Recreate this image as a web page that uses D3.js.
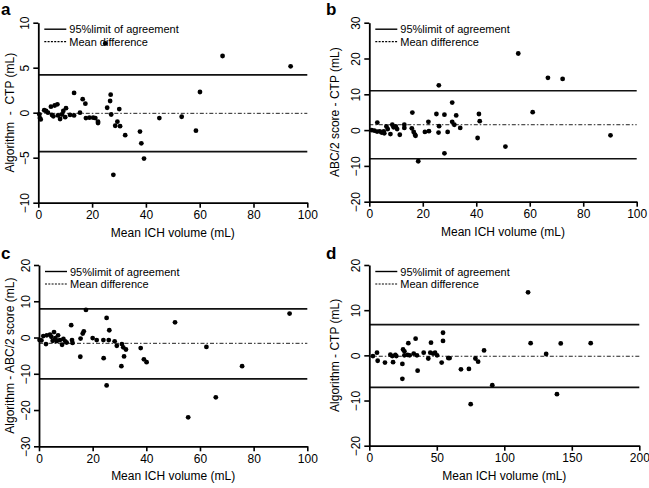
<!DOCTYPE html>
<html><head><meta charset="utf-8">
<script src="https://cdn.jsdelivr.net/npm/d3@7"></script>
<style>
html,body{margin:0;padding:0;background:#fff;}
text{font-family:"Liberation Sans",Arial,Helvetica,sans-serif;fill:#000;}
</style></head>
<body><svg id="chart" width="649" height="488"></svg>
<script>
// ---------- data ----------
const panelLabels = ["a", "b", "c", "d"];
const xTitles = ["Mean ICH volume (mL)", "Mean ICH volume (mL)", "Mean ICH volume (mL)", "Mean ICH volume (mL)"];
const yTitles = ["Algorithm  -  CTP (mL)", "ABC/2 score - CTP (mL)", "Algorithm - ABC/2 score (mL)", "Algorithm - CTP (mL)"];
const legendLabels = ["95%limit of agreement", "Mean difference"];

const xDomains = [[0, 100], [0, 100], [0, 100], [0, 200]];
const yDomains = [[-10, 10], [-20, 30], [-30, 20], [-20, 20]];
const xTickValues = [[0, 20, 40, 60, 80, 100], [0, 20, 40, 60, 80, 100], [0, 20, 40, 60, 80, 100], [0, 50, 100, 150, 200]];
const yTickValues = [[-10, -5, 0, 5, 10], [-20, -10, 0, 10, 20, 30], [-30, -20, -10, 0, 10, 20], [-20, -10, 0, 10, 20]];

const upperLimits = [4.2, 11.0, 7.9, 6.8];
const lowerLimits = [-4.33, -8.0, -11.4, -7.1];
const meanDiffs = [-0.07, 1.5, -1.6, -0.2];

const pointsA = [
  [0.4,-0.2],[0.6,-0.6],[0.9,-0.75],[2.2,0.27],[2.9,0.2],[3.6,0],[4.7,0.67],[5.1,-0.25],[5.6,-0.4],
  [6.1,0.8],[7.1,0.93],[7.3,-0.3],[8.1,-0.7],[8.8,-0.2],[9.3,0.2],[10.3,0.5],[10,-0.5],[11.8,-0.25],
  [13.3,-0.3],[13.3,2.2],[15.5,0],[16.5,1.5],[17.5,1.0],[17.7,-0.6],[19,-0.55],[20.4,-0.55],[21.2,-0.6],
  [22.2,-1.0],[22.2,-1.15],[25.6,0.55],[26.7,1.3],[26.9,2.0],[27.1,-0.2],[30.1,0.4],[28.6,-1.45],
  [29.4,-1.0],[30.4,-1.5],[32.3,-2.5],[37.8,-2.1],[38.3,-3.4],[45,-0.6],[27.9,-6.9],[39.3,-5.1],
  [53.3,-0.45],[58.6,-2.0],[60.1,2.3],[68.5,6.3],[93.8,5.15],[24.9,7.7]
];
const pointsB = [
  [0.9,0],[1.9,-0.15],[2.9,-0.4],[3.0,2.1],[3.9,-0.35],[4.6,-0.7],[5.4,-0.35],[5.6,-0.9],[6.4,1.0],
  [6.9,0.3],[7.9,-1.1],[8.6,1.5],[9.1,0.8],[9.9,1.0],[10.4,0.3],[11.4,-1.3],[13.1,1.5],[13.1,0.6],
  [15.9,0.5],[16.6,-0.5],[17.1,-1.3],[17.3,-1.6],[16.1,4.9],[18.3,-8.7],[20.8,-0.5],[22.1,2.3],
  [22.3,-0.3],[25.1,4.5],[25.9,-0.7],[26.1,1.1],[26,12.5],[28.1,4.3],[28.1,-6.5],[29.3,-0.5],
  [31,7.7],[31,2.3],[31.8,1.5],[32.5,4.1],[34,0.6],[40.5,-2.2],[41,4.5],[41.3,2.5],
  [50.9,-4.6],[55.7,21.4],[61.1,5.0],[66.8,14.6],[72.3,14.3],[90.2,-1.45]
];
const pointsC = [
  [0.2,-0.7],[0.9,-0.8],[1.6,0.4],[2.6,-1.8],[2.9,0.6],[4.1,0.8],[4.6,0.2],[5.1,-0.9],[5.6,1.5],
  [6.1,-0.2],[6.6,-1.0],[7.1,0.6],[7.8,-0.7],[8.6,-2.0],[9.1,-0.4],[9.8,-1.05],[10.3,-1.4],
  [12.0,3.4],[12.3,-0.7],[12.5,-1.5],[15.4,-5.3],[15.5,-0.3],[16.3,1.1],[16.7,1.7],[17.5,7.6],
  [20,-0.15],[21.5,-0.7],[24,-0.7],[24.1,-5.7],[25.2,5.4],[26,-0.7],[26.2,2.0],[25.2,-13.2],
  [28.2,-1.05],[29,-2.3],[30.9,-1.8],[31.4,-2.7],[32.4,-3.3],[31.7,-5.2],[30.7,-7.9],[37.9,-2.9],
  [39.1,-6.0],[40.1,-6.8],[50.7,4.2],[55.6,-22.0],[62.4,-2.6],[65.9,-16.5],[75.7,-7.9],[93.4,6.6]
];
const pointsD = [
  [2.7,-0.15],[5.7,0.6],[6.2,-1.2],[11.6,-1.6],[15.6,0.15],[17,-0.15],[17.6,-1.5],[19.3,0.1],[20,-0.15],
  [24.5,-5.2],[24.5,-1.9],[25,1.3],[26,0.9],[26,0],[28.4,0.1],[28.9,2.7],[29.9,0],[32.9,0.4],
  [34.3,3.7],[35.3,0],[35.8,-3.4],[40.3,0.6],[43.7,-0.7],[45.2,0.6],[45.7,2.8],[47.2,0.4],[48.7,0.6],
  [50.2,0],[53.6,-1.6],[54.6,5.0],[54.6,3.2],[58.5,-0.6],[59.5,-0.6],[67.9,-3.1],[73.8,-3.0],
  [75.1,-10.8],[78.6,-0.7],[80.6,-1.4],[85,1.1],[91.1,-6.6],[117.6,13.95],[119.5,2.7],[131,0.3],
  [139,-8.6],[141.8,2.65],[164,2.7]
];
const allPoints = [pointsA, pointsB, pointsC, pointsD];

// ---------- layout ----------
const boxes = [
  {l: 38.3, r: 307.3, t: 22.7, b: 202.7, ox: 0, oy: 0},
  {l: 369.3, r: 636.7, t: 22.7, b: 201.7, ox: 325, oy: 0},
  {l: 39, r: 307.3, t: 265, b: 446.3, ox: 0, oy: 244},
  {l: 369.3, r: 639.3, t: 265, b: 445.7, ox: 325, oy: 244}
];

const svg = d3.select("#chart");

boxes.forEach((bx, i) => {
  const x = d3.scaleLinear().domain(xDomains[i]).range([bx.l, bx.r]);
  const y = d3.scaleLinear().domain(yDomains[i]).range([bx.b, bx.t]);
  const g = svg.append("g");

  // panel label
  g.append("text").attr("x", bx.ox + 1).attr("y", bx.oy + 15)
    .attr("font-size", 17).attr("font-weight", "bold").text(panelLabels[i]);

  // reference lines
  const x0 = xDomains[i][0], x1 = xDomains[i][1];
  [upperLimits[i], lowerLimits[i]].forEach(v => {
    g.append("line").attr("x1", x(x0)).attr("x2", x(x1)).attr("y1", y(v)).attr("y2", y(v))
      .attr("stroke", "#111").attr("stroke-width", 1.6);
  });
  g.append("line").attr("x1", x(x0)).attr("x2", x(x1)).attr("y1", y(meanDiffs[i])).attr("y2", y(meanDiffs[i]))
    .attr("stroke", "#222").attr("stroke-width", 1).attr("stroke-dasharray", "4,2,1.5,2");

  // axes
  const xAxis = d3.axisBottom(x).tickValues(xTickValues[i]).tickSize(5).tickSizeOuter(0).tickPadding(3);
  const gx = g.append("g").attr("transform", `translate(0,${bx.b})`).call(xAxis);
  gx.select(".domain").attr("stroke", "#000").attr("stroke-width", 1.8);
  gx.selectAll(".tick line").attr("stroke", "#000").attr("stroke-width", 1.6);
  gx.selectAll(".tick text").attr("font-size", 12).attr("font-family", "Liberation Sans, Arial, sans-serif").attr("fill", "#000");

  const yAxis = d3.axisLeft(y).tickValues(yTickValues[i]).tickSize(5).tickSizeOuter(0).tickPadding(3);
  const gy = g.append("g").attr("transform", `translate(${bx.l},0)`).call(yAxis);
  gy.select(".domain").attr("stroke", "#000").attr("stroke-width", 1.8);
  gy.selectAll(".tick line").attr("stroke", "#000").attr("stroke-width", 1.6);
  gy.selectAll(".tick text")
    .attr("font-size", 12).attr("font-family", "Liberation Sans, Arial, sans-serif").attr("fill", "#000")
    .attr("x", null).attr("dy", null)
    .attr("text-anchor", "middle")
    .attr("transform", "translate(-9,0) rotate(-90)");

  // axis titles
  g.append("text").attr("x", (bx.l + bx.r) / 2).attr("y", bx.b + 34)
    .attr("text-anchor", "middle").attr("font-size", 12).text(xTitles[i]);
  g.append("text")
    .attr("transform", `translate(${bx.ox + 14},${(bx.t + bx.b) / 2}) rotate(-90)`)
    .attr("text-anchor", "middle").attr("font-size", 12)
    .style("white-space", "pre").text(yTitles[i]);

  // legend
  const lx = bx.l + 6, ly1 = bx.t + 6.5, ly2 = bx.t + 19;
  g.append("line").attr("x1", lx).attr("x2", lx + 22).attr("y1", ly1).attr("y2", ly1)
    .attr("stroke", "#000").attr("stroke-width", 1.4);
  g.append("line").attr("x1", lx).attr("x2", lx + 22).attr("y1", ly2).attr("y2", ly2)
    .attr("stroke", "#000").attr("stroke-width", 1.2).attr("stroke-dasharray", "2,1.3");
  g.append("text").attr("x", lx + 25).attr("y", ly1 + 4).attr("font-size", 11).text(legendLabels[0]);
  g.append("text").attr("x", lx + 25).attr("y", ly2 + 4).attr("font-size", 11).text(legendLabels[1]);

  // points
  g.selectAll("circle.pt").data(allPoints[i]).enter().append("circle")
    .attr("class", "pt")
    .attr("cx", d => x(d[0])).attr("cy", d => y(d[1])).attr("r", 2.4).attr("fill", "#000");
});
</script>
</body></html>
